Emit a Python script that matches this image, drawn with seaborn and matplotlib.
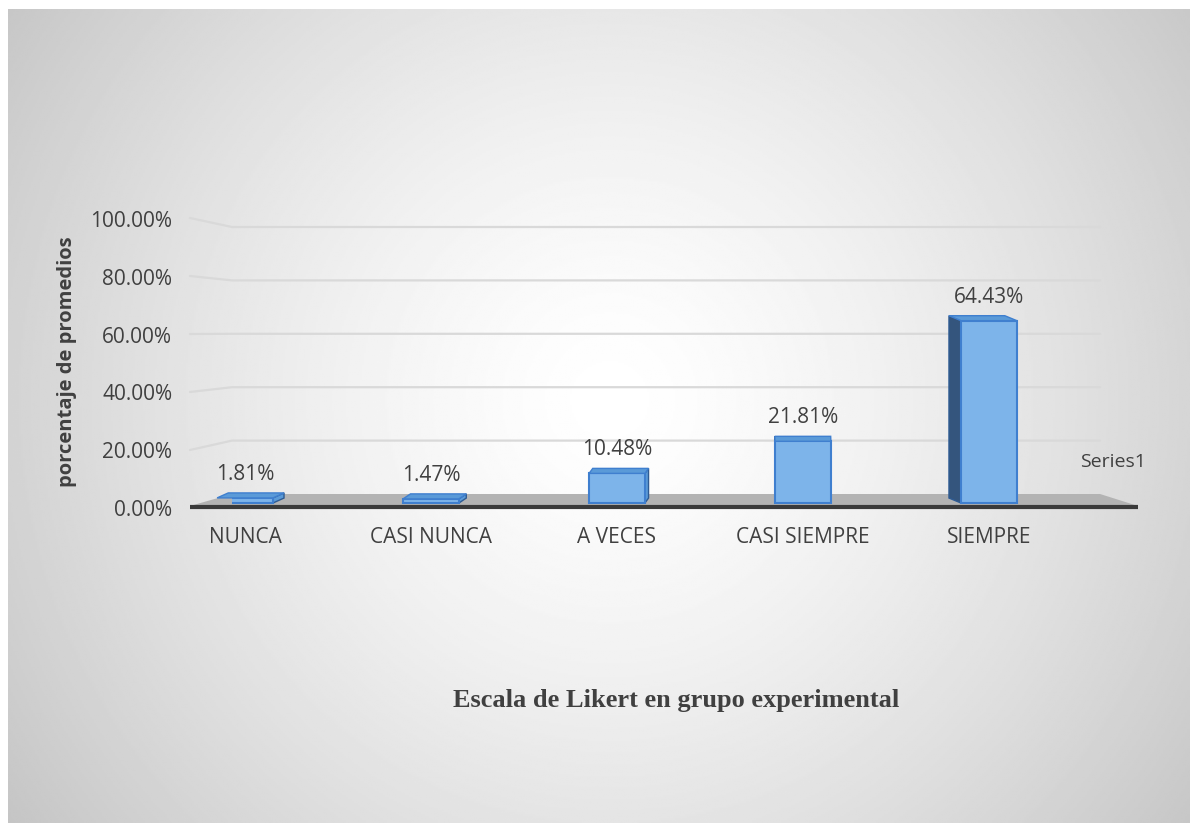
import numpy as np
import pandas as pd
import matplotlib
matplotlib.use("Agg")
import matplotlib.pyplot as plt
from matplotlib.patches import Polygon
import seaborn as sns

# ---------------- data ----------------
categories = ["NUNCA", "CASI NUNCA", "A VECES", "CASI SIEMPRE", "SIEMPRE"]
values = [0.0181, 0.0147, 0.1048, 0.2181, 0.6443]
value_labels = ["1.81%", "1.47%", "10.48%", "21.81%", "64.43%"]
y_ticks = [0.0, 0.2, 0.4, 0.6, 0.8, 1.0]
y_tick_labels = ["0.00%", "20.00%", "40.00%", "60.00%", "80.00%", "100.00%"]
series_name = "Series1"
x_title = "Escala de Likert en grupo experimental"
y_title = "porcentaje de promedios"

# ---------------- style ----------------
sns.set_theme(style="white")
plt.rcParams["font.family"] = ["Open Sans", "DejaVu Sans"]
TXT = "#404040"
FS = 15

W, H = 1190, 823
fig = plt.figure(figsize=(W / 100, H / 100), dpi=100)
fig.patch.set_facecolor("white")

# radial gradient background (chart area)
bg = fig.add_axes([8 / W, 0, 1 - 8 / W, 1 - 9 / H])
gx = np.linspace(8, W, 600)
gy = np.linspace(9, H, 420)
GX, GY = np.meshgrid(gx, gy)
r = np.sqrt((GX - 610) ** 2 + (GY - 400) ** 2) / 740
shade = 1 - 0.23 * np.clip(r, 0, 1.2) ** 1.4
bg.imshow(shade, cmap="gray", vmin=0, vmax=1, aspect="auto",
          extent=[0, 1, 0, 1], origin="upper")
bg.set_xlim(0, 1)
bg.set_ylim(0, 1)
bg.axis("off")

# ---------------- main axes ----------------
AX_L, AX_R = 232, 1100
ZERO_PX, UNIT_PX = 503, 284
YMIN, YMAX = -0.03, 1.0
AX_B = ZERO_PX - YMIN * UNIT_PX
AX_T = ZERO_PX - YMAX * UNIT_PX
ax = fig.add_axes([AX_L / W, 1 - AX_B / H, (AX_R - AX_L) / W, (AX_B - AX_T) / H])
ax.patch.set_alpha(0)


def afx(px):
    return (px - AX_L) / (AX_R - AX_L)


def afy(py):
    return (AX_B - py) / (AX_B - AX_T)


df = pd.DataFrame({"categoria": categories, "valor": values})
sns.barplot(data=df, x="categoria", y="valor", ax=ax, width=0.3,
            color="#7db4ea", edgecolor="#3f7fcf", linewidth=1.5,
            saturation=1, zorder=3)

XMIN, XMAX = -0.07, 4.597
ax.set_xlim(XMIN, XMAX)
ax.set_ylim(YMIN, YMAX)
px_per_x = (AX_R - AX_L) / (XMAX - XMIN)
px_per_y = UNIT_PX

# floor
floor = Polygon([(afx(232), afy(494)), (afx(1100), afy(494)),
                 (afx(1138), afy(506)), (afx(190), afy(506))],
                closed=True, transform=ax.transAxes, facecolor="#b3b3b3",
                edgecolor="none", zorder=1, clip_on=False)
ax.add_patch(floor)
ax.plot([afx(190), afx(1138)], [afy(507), afy(507)], transform=ax.transAxes,
        color="#3a3a3a", lw=3, zorder=1.2, clip_on=False, solid_capstyle="butt")

# gridlines (back wall + side wall)
for v in y_ticks[1:]:
    back = 494 - 267 * v
    front = 508 - 290 * v
    ax.plot([afx(190), afx(232), afx(1100)], [afy(front), afy(back), afy(back)],
            transform=ax.transAxes, color="#d9d9d9", lw=1.6, zorder=0.8,
            clip_on=False)

# 3D faces of the bars
for p, lbl in zip(ax.patches[:len(values)], value_labels):
    x0, w, h = p.get_x(), p.get_width(), p.get_height()
    cpx = AX_L + (x0 + w / 2 - XMIN) * px_per_x
    if cpx < 800:
        dx_px = 0.02 * (800 - cpx)
    else:
        dx_px = -0.064 * (cpx - 800)
    dx = dx_px / px_per_x
    dy = 5 / px_per_y
    if dx < 0:
        side = [(x0, 0), (x0, h), (x0 + dx, h + dy), (x0 + dx, dy)]
        side_col = "#34557d"
    else:
        side = [(x0 + w, 0), (x0 + w, h), (x0 + w + dx, h + dy), (x0 + w + dx, dy)]
        side_col = "#5a9ad8"
    ax.add_patch(Polygon(side, closed=True, facecolor=side_col,
                         edgecolor="#2e5b93", lw=1, zorder=2.5, clip_on=False))
    top = [(x0, h), (x0 + w, h), (x0 + w + dx, h + dy), (x0 + dx, h + dy)]
    ax.add_patch(Polygon(top, closed=True, facecolor="#5a9ad8",
                         edgecolor="#3f7fcf", lw=1, zorder=3.5, clip_on=False))
    ax.annotate(lbl, (x0 + w / 2, h), xytext=(0, 17), textcoords="offset points",
                ha="center", va="center", fontsize=FS, color=TXT)

# ticks
tick_pos = [(ZERO_PX - (508 - 290 * v)) / UNIT_PX for v in y_ticks]
ax.set_yticks(tick_pos, labels=y_tick_labels)
ax.set_xticks(range(len(categories)), labels=categories)
ax.tick_params(axis="y", length=0, pad=43, labelsize=FS, labelcolor=TXT)
ax.tick_params(axis="x", length=0, pad=11, labelsize=FS, labelcolor=TXT)
for s in ax.spines.values():
    s.set_visible(False)
ax.grid(False)
ax.set_xlabel("")
ax.set_ylabel(y_title, fontsize=14.5, fontweight="bold", color=TXT)
ax.yaxis.set_label_coords(afx(77), afy(362))

fig.text(1113 / W, 1 - 462 / H, series_name, ha="center", va="center",
         fontsize=14, color=TXT)
fig.text(676 / W, 1 - 700 / H, x_title, ha="center", va="center",
         fontsize=19, fontweight="bold", color=TXT,
         family=["Liberation Serif", "DejaVu Serif"])

fig.savefig("out.png", dpi=100)
